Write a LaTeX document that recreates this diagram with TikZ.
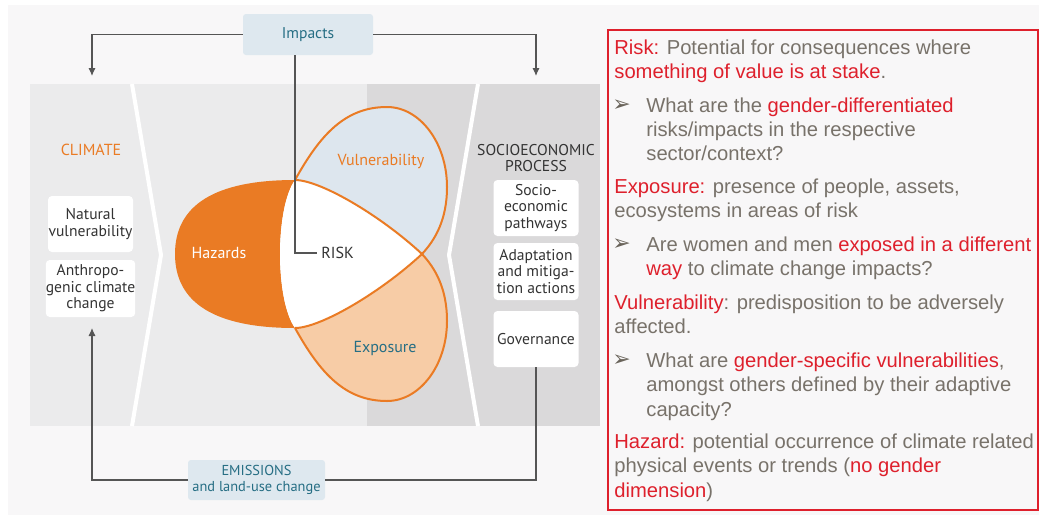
\documentclass[tikz,border=0pt]{standalone}
\usepackage{fontspec}
\setmainfont{Liberation Sans}
\newfontfamily\diagfont{PT Sans}
\newfontfamily\bulletfont{DejaVu Sans}
\usetikzlibrary{positioning,arrows.meta}
\definecolor{pagegray}{RGB}{248,247,248}
\definecolor{panellight}{RGB}{235,235,236}
\definecolor{paneldark}{RGB}{218,217,218}
\definecolor{boxblue}{RGB}{222,232,239}
\definecolor{tealtext}{RGB}{38,110,132}
\definecolor{hazardorange}{RGB}{234,123,36}
\definecolor{exposurefill}{RGB}{247,204,166}
\definecolor{vulnfill}{RGB}{221,230,238}
\definecolor{linegray}{RGB}{85,85,85}
\definecolor{labeldark}{RGB}{51,51,51}
\definecolor{notegray}{RGB}{120,114,106}
\definecolor{bulletgray}{RGB}{105,99,90}
\definecolor{notered}{RGB}{222,32,44}
\newcommand{\redtext}[1]{\textcolor{notered}{#1}}

\begin{document}
\begin{tikzpicture}[x=0.5pt, y=-0.5pt,
    font=\diagfont\fontsize{7.8}{8.3}\selectfont,
    bluebox/.style={fill=boxblue, rounded corners=1.5pt, text=tealtext, align=center, inner sep=0pt},
    whitebox/.style={fill=white, rounded corners=2pt, text=labeldark, align=center, inner sep=0pt, minimum width=42.5pt, minimum height=28pt},
    flow/.style={draw=linegray, line width=0.55pt},
    flowarrow/.style={flow, -{Latex[length=4pt, width=3.6pt]}},
    petal/.style={draw=hazardorange, line width=1pt, line join=round},
    notetext/.style={anchor=base west, align=left, inner sep=0pt, text=notegray, font=\normalfont\fontsize{10.1}{12.2}\selectfont},
    notebullet/.style={anchor=base west, inner sep=0pt, text=bulletgray, font=\bulletfont\fontsize{11}{11}\selectfont}]

    % Page and panels
    \useasboundingbox (0,0) rectangle (1039,515);
    \fill[white] (0,0) rectangle (1039,515);
    \fill[pagegray] (8,5) rectangle (1039,515);
    \fill[panellight] (30,84) rectangle (600,426);
    \fill[paneldark] (367,84) rectangle (600,426);
    \draw[white, line width=2pt] (132,84) -- (161,255) -- (132,426);
    \draw[white, line width=2pt] (478,84) -- (449,255) -- (478,426);

    % Corner points of the three petals
    \coordinate (A) at (295,180);
    \coordinate (B) at (295,328);
    \coordinate (C) at (422,254);

    % Petals
    \fill[hazardorange] (A) .. controls (215,180) and (175,205) .. (175,254) .. controls (175,303) and (215,328) .. (B) .. controls (275,300) and (275,208) .. (A) -- cycle;
    \fill[vulnfill] (A) .. controls (320,135) and (345,107) .. (387,107) .. controls (420,107) and (447,143) .. (447,187) .. controls (447,220) and (435,240) .. (C) .. controls (380,215) and (320,180) .. (A) -- cycle;
    \fill[exposurefill] (B) .. controls (320,373) and (345,401) .. (387,401) .. controls (420,401) and (447,365) .. (447,321) .. controls (447,288) and (435,268) .. (C) .. controls (380,293) and (320,328) .. (B) -- cycle;
    \fill[white] (A) .. controls (320,180) and (380,215) .. (C) .. controls (380,293) and (320,328) .. (B) .. controls (275,300) and (275,208) .. (A) -- cycle;
    \draw[petal] (A) .. controls (320,135) and (345,107) .. (387,107) .. controls (420,107) and (447,143) .. (447,187) .. controls (447,220) and (435,240) .. (C) .. controls (380,293) and (320,328) .. (B);
    \draw[petal] (B) .. controls (320,373) and (345,401) .. (387,401) .. controls (420,401) and (447,365) .. (447,321) .. controls (447,288) and (435,268) .. (C) .. controls (380,215) and (320,180) .. (A);

    % Petal labels
    \node[text=white, font=\diagfont\fontsize{8}{9}\selectfont] (hazards) at (219,253) {Hazards};
    \node[text=hazardorange, font=\diagfont\fontsize{8}{9}\selectfont] (vulnerability) at (381,161) {Vulnerability};
    \node[text=tealtext, font=\diagfont\fontsize{8}{9}\selectfont] (exposure) at (385,348) {Exposure};
    \node[text=labeldark, anchor=west, inner sep=2pt, font=\diagfont\fontsize{8}{9}\selectfont] (risk) at (317,253) {RISK};

    % Side panels
    \node[text=hazardorange, font=\diagfont\fontsize{8}{9}\selectfont] (climate) at (91,150) {CLIMATE};
    \node[text=labeldark, align=center, font=\diagfont\fontsize{7.8}{8}\selectfont] (socioprocess) at (536,158) {SOCIOECONOMIC\\PROCESS};
    \node[whitebox] (natural) at (90.5,224) {Natural\\vulnerability};
    \node[whitebox, minimum height=28.5pt] (anthropo) at (90.5,288.5) {Anthropo-\\genic climate\\change};
    \node[whitebox] (pathways) at (536,208) {Socio-\\economic\\pathways};
    \node[whitebox, minimum height=28.5pt] (adaptation) at (536,271.5) {Adaptation\\and mitiga-\\tion actions};
    \node[whitebox] (governance) at (536,339) {Governance};

    % Impacts and emissions
    \node[bluebox, minimum width=65pt, minimum height=20.5pt] (impacts) at (308,34.5) {Impacts};
    \node[bluebox, minimum width=68.5pt, minimum height=20pt, font=\diagfont\fontsize{7.2}{8.3}\selectfont] (emissions) at (256.5,480) {EMISSIONS\\and land-use change};

    \coordinate (climatein) at (92,76);
    \coordinate (socioin) at (536,76);
    \coordinate (anthropoin) at (92,328);
    \coordinate (riskbend) at (295,253);
    \draw[flowarrow] (impacts.west) -| (climatein);
    \draw[flowarrow] (impacts.east) -| (socioin);
    \draw[flow] (impacts.south -| riskbend) -- (riskbend) -- (risk.west);
    \draw[flowarrow] (emissions.west) -| (anthropoin);
    \draw[flow] (emissions.east) -| (governance.south);

    % Definitions frame (multi-line nodes sit on their last baseline)
    \draw[notered, line width=0.75pt] (608,30) rectangle (1038,510);
    \node[notetext] (riskdef) at (614,78.4) {\redtext{Risk:} Potential for consequences where\\\redtext{something of value is at stake}.};
    \node[notebullet] (bulletrisk) at (612,111) {➢};
    \node[notetext] (riskq) at (646,160.8) {What are the \redtext{gender-differentiated}\\risks/impacts in the respective\\sector/context?};
    \node[notetext] (exposuredef) at (614,217.9) {\redtext{Exposure:} presence of people, assets,\\ecosystems in areas of risk};
    \node[notebullet] (bulletexposure) at (612,250.5) {➢};
    \node[notetext] (exposureq) at (646,275.9) {Are women and men \redtext{exposed in a different}\\\redtext{way} to climate change impacts?};
    \node[notetext] (vulndef) at (614,333.9) {\redtext{Vulnerability}: predisposition to be adversely\\affected.};
    \node[notebullet] (bulletvuln) at (612,366.5) {➢};
    \node[notetext] (vulnq) at (646,416.3) {What are \redtext{gender-specific vulnerabilities},\\amongst others defined by their adaptive\\capacity?};
    \node[notetext] (hazarddef) at (614,497.3) {\redtext{Hazard:} potential occurrence of climate related\\physical events or trends (\redtext{no gender}\\\redtext{dimension})};
\end{tikzpicture}
\end{document}
